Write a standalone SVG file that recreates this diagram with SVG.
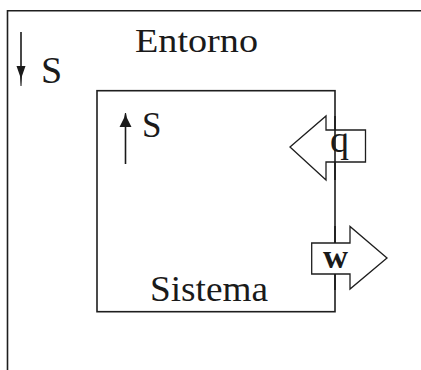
<svg xmlns="http://www.w3.org/2000/svg" width="421" height="370" viewBox="0 0 421 370">
  <style>
    .frame { fill: none; stroke: #1e1e1e; stroke-width: 1.6; }
    .flow { fill: #ffffff; stroke: #1e1e1e; stroke-width: 1.3; stroke-linejoin: miter; }
    .lbl { font-family: "Liberation Serif", "Times New Roman", serif; fill: #1a1a1a; }
    .spine { stroke: #1a1a1a; stroke-width: 1.6; fill: none; }
    .head { fill: #1a1a1a; stroke: none; }
  </style>
  <rect width="421" height="370" fill="#ffffff"/>

  <!-- Surroundings -->
  <g id="entorno">
    <path class="frame" d="M7.5,380 V10.7 H430"/>
    <text class="lbl" x="135" y="51.5" font-size="34" textLength="123" lengthAdjust="spacingAndGlyphs">Entorno</text>
    <line class="spine" x1="21" y1="32" x2="21" y2="70"/>
    <polygon class="head" points="16.5,66 25.5,66 22,76 21.5,86 20.5,86 20,76"/>
    <text class="lbl" x="41" y="83" font-size="38">S</text>
  </g>

  <!-- System -->
  <g id="sistema">
    <rect class="frame" x="97" y="90.7" width="238" height="221"/>
    <line class="spine" x1="125.5" y1="124" x2="125.5" y2="164"/>
    <polygon class="head" points="125,113 126,113 127,118 131.5,127 119.5,127 124,118"/>
    <text class="lbl" x="142" y="137" font-size="35">S</text>
    <text class="lbl" x="150" y="301" font-size="36" textLength="118" lengthAdjust="spacingAndGlyphs">Sistema</text>
  </g>

  <!-- Heat and work crossing the boundary -->
  <g id="connectors">
    <g id="calor">
      <polygon class="flow" points="290,147 326,116 326,130 365.5,130 365.5,162 326,162 326,180"/>
      <line class="spine" x1="335" y1="116" x2="335" y2="180" stroke-width="1.3"/>
      <text class="lbl" x="330" y="152" font-size="38">q</text>
    </g>
    <g id="trabajo">
      <polygon class="flow" points="311.7,243 350,243 350,226.5 387,258 350,289 350,274 311.7,274"/>
      <line class="spine" x1="335" y1="226" x2="335" y2="243" stroke-width="1.3"/>
      <line class="spine" x1="335" y1="274" x2="335" y2="290" stroke-width="1.3"/>
      <text class="lbl" x="323" y="267.5" font-size="33" font-weight="bold" textLength="25" lengthAdjust="spacingAndGlyphs">w</text>
    </g>
  </g>
</svg>
